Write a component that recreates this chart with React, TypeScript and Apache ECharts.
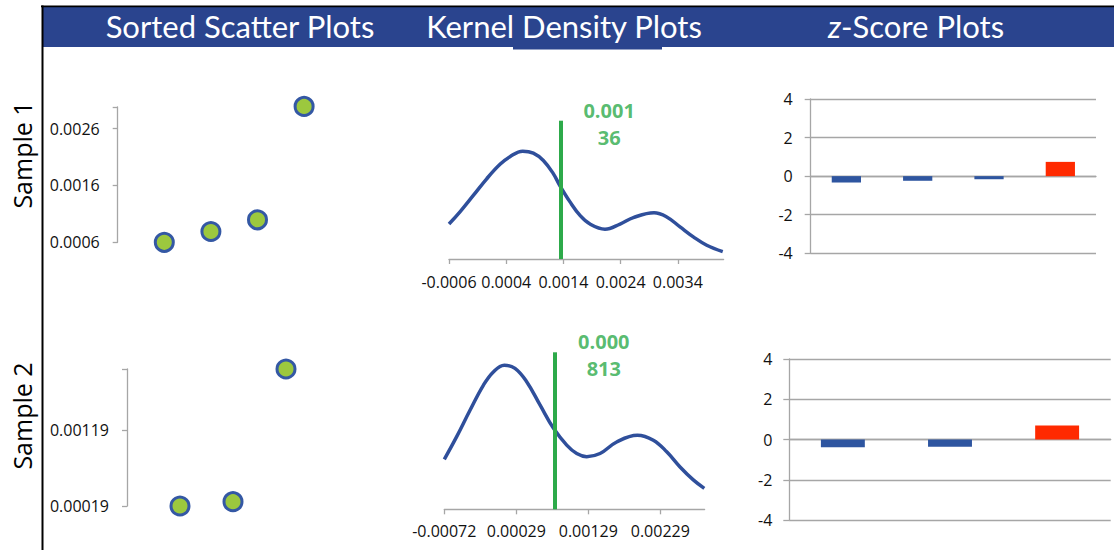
import React, { useEffect, useRef } from "react";
import * as echarts from "echarts";

// ---------- data ----------
const headerTitles = ["Sorted Scatter Plots", "Kernel Density Plots", "z-Score Plots"];
const sampleNames = ["Sample 1", "Sample 2"];

// sorted scatter values
const scatter1Values = [0.0006, 0.00079, 0.000996, 0.00299];
const scatter2Values = [0.00019, 0.000247, 0.002];
const scatter1Ticks = [0.0006, 0.0016, 0.0026];
const scatter1TickLabels = ["0.0006", "0.0016", "0.0026"];
const scatter2Ticks = [0.00019, 0.00119];
const scatter2TickLabels = ["0.00019", "0.00119"];

// kernel density curves (x value, density)
const kde1X = [-0.0006, -0.000408, -0.000175, 0.000059, 0.000292, 0.000466, 0.000688, 0.000874, 0.001049, 0.001223, 0.00134, 0.001515, 0.00169, 0.001865, 0.002127, 0.00239, 0.002622, 0.002984, 0.003206, 0.003438, 0.003671, 0.003905, 0.004185];
const kde1Y = [109, 147, 198, 250, 295, 319, 336, 330, 307, 266, 228, 178, 136, 109, 93, 109, 129, 144, 131, 100, 69, 43, 23];
const kde2X = [-0.000715, -0.000543, -0.000358, -0.000173, -0.000034, 0.000118, 0.000267, 0.000429, 0.000614, 0.000804, 0.000985, 0.001124, 0.001263, 0.001448, 0.001679, 0.001966, 0.002188, 0.002374, 0.002559, 0.002743, 0.002896];
const kde2Y = [112, 163, 222, 278, 308, 323, 316, 286, 234, 181, 144, 125, 118, 125, 151, 166, 155, 129, 95, 66, 47];
const kde1Ticks = [-0.0006, 0.0004, 0.0014, 0.0024, 0.0034];
const kde1TickLabels = ["-0.0006", "0.0004", "0.0014", "0.0024", "0.0034"];
const kde2Ticks = [-0.000715, 0.000285, 0.001285, 0.002285];
const kde2TickLabels = ["-0.00072", "0.00029", "0.00129", "0.00229"];
const kdeMeans = [0.00136, 0.000813];
const kdeMeanTexts = ["0.001\n36", "0.000\n813"];

// z-scores
const z1Values = [-0.33, -0.24, -0.16, 0.74];
const z2Values = [-0.39, -0.36, 0.69];
const zTicksMin = -4;
const zTicksMax = 4;
const zTickStep = 2;

// ---------- styles ----------
const HDR_BLUE = "#2A448E";
const CURVE = "#2F4F9B";
const GREEN = "#2DAA4A";
const MARK_FILL = "#9CC83E";
const MARK_BORDER = "#3458A4";
const BAR_BLUE = "#2E55A0";
const BAR_RED = "#FF2A00";
const GRAY = "#A6A6A6";
const TXT = "#111111";
const FONT = "'Open Sans', 'Noto Sans', sans-serif";
const HFONT = "Lato, 'Open Sans', sans-serif";

const labelFmt = (ticks: number[], labels: string[]) => (v: number) => {
  const i = ticks.findIndex((t) => Math.abs(t - v) < 1e-12);
  return i >= 0 ? labels[i] : "";
};

const pairs = (xs: number[], ys: number[]) => xs.map((x, i) => [x, ys[i]]);

export default function App() {
  const ref = useRef<HTMLDivElement>(null);

  useEffect(() => {
    if (!ref.current) return;
    const chart = echarts.init(ref.current, undefined, { renderer: "svg" });

    const scatterY = (min: number, max: number, ticks: number[], labels: string[], margin: number, gi: number) => ({
      type: "value",
      gridIndex: gi,
      min,
      max,
      axisLine: { show: true, lineStyle: { color: GRAY, width: 1.3 } },
      axisTick: { show: true, length: 5, lineStyle: { color: GRAY, width: 1.3 }, customValues: [...ticks, max] },
      axisLabel: { show: true, margin, color: TXT, fontSize: 16, fontFamily: FONT, customValues: ticks, formatter: labelFmt(ticks, labels) },
      splitLine: { show: false },
    });

    const kdeX = (min: number, max: number, ticks: number[], labels: string[], margin: number, gi: number) => ({
      type: "value",
      gridIndex: gi,
      min,
      max,
      axisLine: { show: true, onZero: false, lineStyle: { color: GRAY, width: 1.3 } },
      axisTick: { show: true, length: 5, lineStyle: { color: GRAY, width: 1.3 }, customValues: ticks },
      axisLabel: { show: true, margin, color: TXT, fontSize: 16, fontFamily: FONT, customValues: ticks, formatter: labelFmt(ticks, labels) },
      splitLine: { show: false },
    });

    const zY = (gi: number, margin: number) => ({
      type: "value",
      gridIndex: gi,
      min: zTicksMin,
      max: zTicksMax,
      interval: zTickStep,
      axisLine: { show: true, lineStyle: { color: GRAY, width: 1.3 } },
      axisTick: { show: true, length: 6, lineStyle: { color: GRAY, width: 1.3 } },
      axisLabel: { show: true, margin, color: TXT, fontSize: 16, fontFamily: FONT },
      splitLine: { show: true, lineStyle: { color: GRAY, width: 1.3 } },
    });

    const zX = (gi: number, n: number) => ({
      type: "category",
      gridIndex: gi,
      data: Array.from({ length: n }, (_, i) => String(i + 1)),
      axisLine: { show: true, lineStyle: { color: GRAY, width: 1.3 } },
      axisTick: { show: false },
      axisLabel: { show: false },
      splitLine: { show: false },
    });

    const hiddenX = (gi: number, max: number) => ({ type: "value", gridIndex: gi, min: 0, max, show: false });
    const hiddenY = (gi: number, max: number) => ({ type: "value", gridIndex: gi, min: 0, max, show: false });

    const scatterSeries = (vals: number[], ai: number) => ({
      type: "scatter",
      xAxisIndex: ai,
      yAxisIndex: ai,
      clip: false,
      symbol: "circle",
      symbolSize: 18,
      itemStyle: { color: MARK_FILL, borderColor: MARK_BORDER, borderWidth: 3, opacity: 1 },
      data: vals.map((v, i) => [i + 1, v]),
      silent: true,
    });

    const kdeSeries = (xs: number[], ys: number[], ai: number, mean: number) => ({
      type: "line",
      xAxisIndex: ai,
      yAxisIndex: ai,
      data: pairs(xs, ys),
      smooth: 0.4,
      showSymbol: false,
      symbol: "none",
      clip: false,
      lineStyle: { color: CURVE, width: 3.5 },
      silent: true,
      markLine: {
        silent: true,
        precision: 8,
        symbol: ["none", "none"],
        label: { show: false },
        lineStyle: { color: GREEN, width: 4, type: "solid" },
        data: [{ xAxis: mean }],
      },
    });

    const meanLabelSeries = (ai: number, mean: number, top: number, text: string, dx: number) => ({
      type: "scatter",
      xAxisIndex: ai,
      yAxisIndex: ai,
      clip: false,
      silent: true,
      symbol: "circle",
      symbolSize: 1,
      itemStyle: { color: "rgba(0,0,0,0)" },
      data: [[mean, top]],
      label: {
        show: true,
        position: "inside",
        offset: [dx, 3],
        formatter: () => text,
        color: GREEN,
        fontSize: 20,
        fontWeight: "bold",
        fontFamily: FONT,
        lineHeight: 27,
        align: "center",
      },
    });

    const zSeries = (vals: number[], ai: number) => ({
      type: "bar",
      xAxisIndex: ai,
      yAxisIndex: ai,
      barWidth: "41%",
      silent: true,
      data: vals.map((v) => ({ value: v, itemStyle: { color: v > 0 ? BAR_RED : BAR_BLUE } })),
    });

    const KDE1_MAX = 431;
    const KDE2_MAX = 352;

    const headerText = (x: number, text: string, rich?: any) => ({
      type: "text", x, y: 26, silent: true,
      style: {
        text, fill: "#fff", fontSize: 31, fontFamily: HFONT,
        align: "center", verticalAlign: "middle", textAlign: "center", textVerticalAlign: "middle",
        ...(rich ? { rich } : {}),
      },
    });

    const option: any = {
      animation: false,
      backgroundColor: "#ffffff",
      grid: [
        { left: 117.7, top: 107, width: 233, height: 135.3 },
        { left: 449, top: 120.7, width: 274.6, height: 138.3 },
        { left: 810.7, top: 99, width: 285.3, height: 154.3 },
        { left: 127, top: 369, width: 212, height: 137 },
        { left: 444.3, top: 352.3, width: 260.3, height: 157 },
        { left: 789.3, top: 359, width: 321.4, height: 161 },
      ],
      xAxis: [
        hiddenX(0, 5),
        kdeX(-0.0006, 0.0042, kde1Ticks, kde1TickLabels, 15, 1),
        zX(2, z1Values.length),
        hiddenX(3, 4),
        kdeX(-0.000715, 0.0029, kde2Ticks, kde2TickLabels, 14, 4),
        zX(5, z2Values.length),
      ],
      yAxis: [
        scatterY(0.0006, 0.00298, scatter1Ticks, scatter1TickLabels, 18, 0),
        hiddenY(1, KDE1_MAX),
        zY(2, 18),
        scatterY(0.00019, 0.002, scatter2Ticks, scatter2TickLabels, 18, 3),
        hiddenY(4, KDE2_MAX),
        zY(5, 17),
      ],
      series: [
        scatterSeries(scatter1Values, 0),
        kdeSeries(kde1X, kde1Y, 1, kdeMeans[0]),
        meanLabelSeries(1, kdeMeans[0], KDE1_MAX, kdeMeanTexts[0], 48),
        zSeries(z1Values, 2),
        scatterSeries(scatter2Values, 3),
        kdeSeries(kde2X, kde2Y, 4, kdeMeans[1]),
        meanLabelSeries(4, kdeMeans[1], KDE2_MAX, kdeMeanTexts[1], 49.5),
        zSeries(z2Values, 5),
      ],
      graphic: [
        { type: "rect", shape: { x: 43, y: 7, width: 1071, height: 40 }, style: { fill: HDR_BLUE }, silent: true },
        { type: "rect", shape: { x: 513, y: 46, width: 149, height: 3.5 }, style: { fill: HDR_BLUE }, silent: true },
        { type: "rect", shape: { x: 41, y: 5.5, width: 1073, height: 1.8 }, style: { fill: "#000" }, silent: true },
        { type: "rect", shape: { x: 41.5, y: 5.5, width: 2, height: 545 }, style: { fill: "#000" }, silent: true },
        headerText(240, headerTitles[0]),
        headerText(564, headerTitles[1]),
        headerText(916, "{i|" + headerTitles[2].charAt(0) + "}{n|" + headerTitles[2].slice(1) + "}", {
          i: { fontStyle: "italic", fill: "#fff", fontSize: 31, fontFamily: HFONT },
          n: { fill: "#fff", fontSize: 31, fontFamily: HFONT },
        }),
        {
          type: "text", x: 22, y: 155, rotation: Math.PI / 2, silent: true,
          style: { text: sampleNames[0], fill: "#000", fontSize: 25, fontFamily: FONT, align: "center", verticalAlign: "middle", textAlign: "center", textVerticalAlign: "middle" },
        },
        {
          type: "text", x: 22, y: 416, rotation: Math.PI / 2, silent: true,
          style: { text: sampleNames[1], fill: "#000", fontSize: 25, fontFamily: FONT, align: "center", verticalAlign: "middle", textAlign: "center", textVerticalAlign: "middle" },
        },
      ],
    };

    chart.setOption(option);
    return () => chart.dispose();
  }, []);

  return (
    <div
      ref={ref}
      style={{ position: "fixed", left: 0, top: 0, width: 1114, height: 550, background: "#fff" }}
    />
  );
}
